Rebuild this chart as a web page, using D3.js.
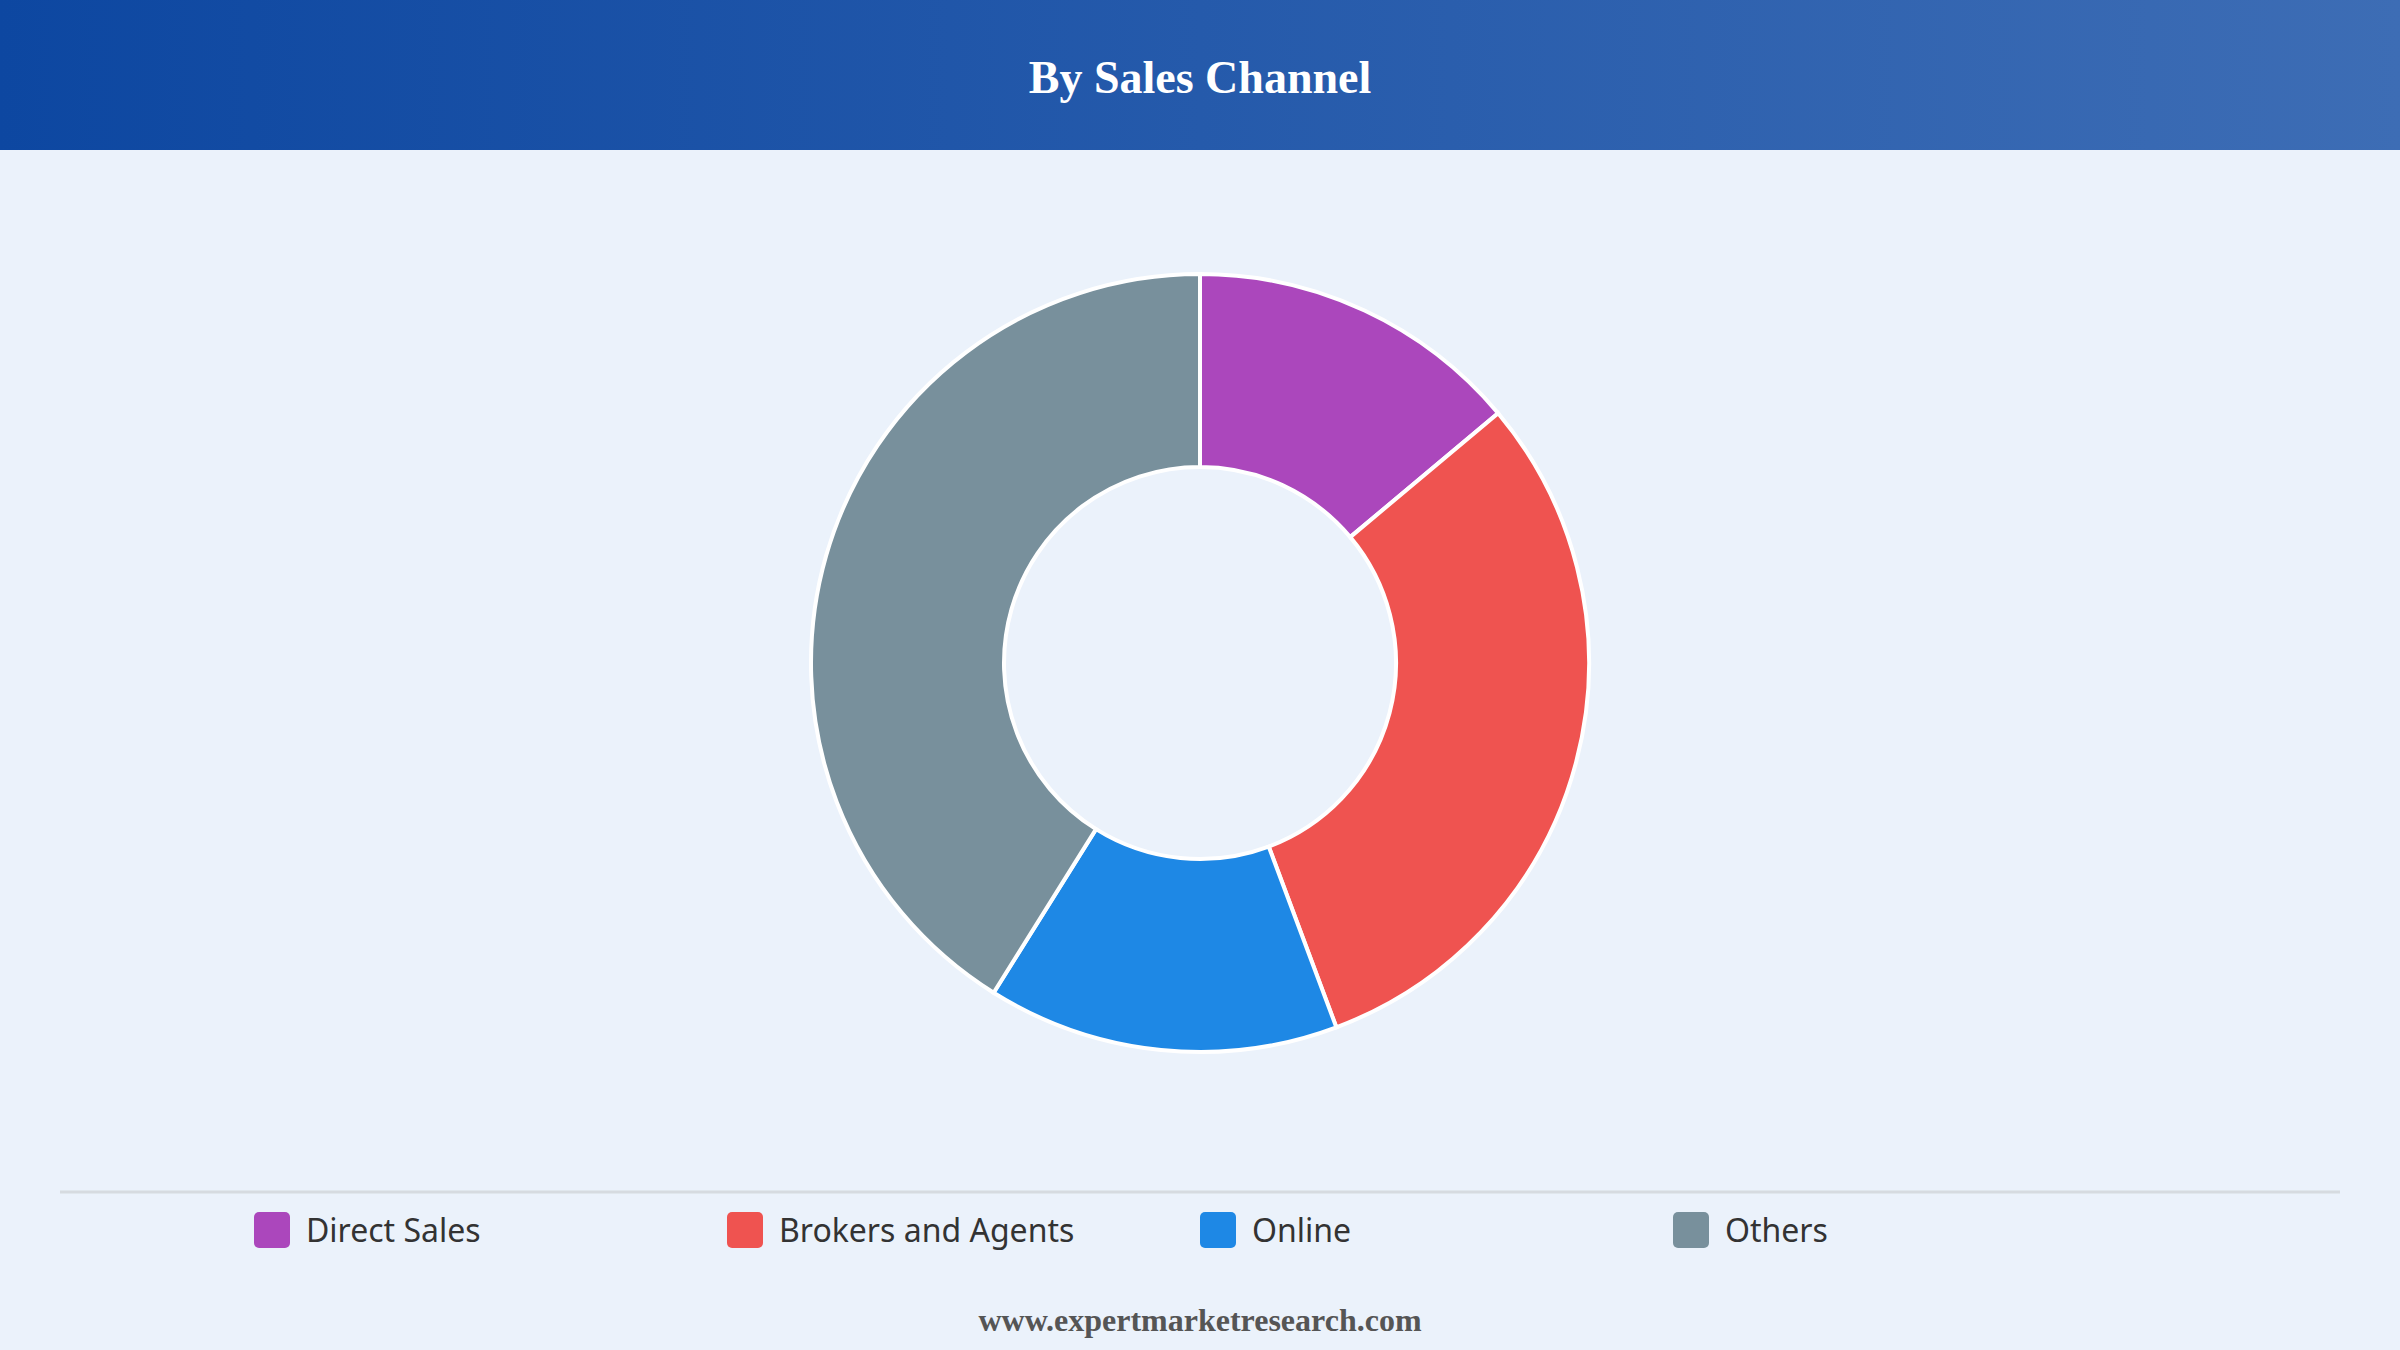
<!DOCTYPE html>
<html><head><meta charset="utf-8">
<script src="https://cdn.jsdelivr.net/npm/d3@7"></script>
<style>body{margin:0;background:#EBF2FB;}</style>
</head><body>
<svg id="c" width="2400" height="1350"></svg>
<script>
const categories = ["Direct Sales", "Brokers and Agents", "Online", "Others"];
const values = [13.9, 30.4, 14.6, 41.1];
const colors = ["#AB47BC", "#EF5350", "#1E88E5", "#78909C"];
const title = "By Sales Channel";
const footer = "www.expertmarketresearch.com";

const svg = d3.select("#c");
const defs = svg.append("defs");
const g = defs.append("linearGradient").attr("id","hg");
g.append("stop").attr("offset","0%").attr("stop-color","#0D47A1");
g.append("stop").attr("offset","100%").attr("stop-color","#3D6DB5");
svg.append("rect").attr("width",2400).attr("height",1350).attr("fill","#EBF2FB");
svg.append("rect").attr("width",2400).attr("height",150).attr("fill","url(#hg)");
svg.append("text").attr("x",1200).attr("y",93).attr("text-anchor","middle")
  .attr("font-family","Liberation Serif, serif").attr("font-weight","bold")
  .attr("font-size",46).attr("fill","#fff").text(title);

const pie = d3.pie().sort(null).value(d=>d);
const arc = d3.arc().innerRadius(196).outerRadius(389);
svg.append("g").attr("transform","translate(1200,663)")
  .selectAll("path").data(pie(values)).join("path")
  .attr("d",arc).attr("fill",(d,i)=>colors[i])
  .attr("stroke","#fff").attr("stroke-width",4);

svg.append("line").attr("x1",60).attr("x2",2340).attr("y1",1192).attr("y2",1192)
  .attr("stroke","#d6dbe0").attr("stroke-width",3);
const x = d3.scalePoint().domain(categories).range([254,1673]);
const lg = svg.append("g").selectAll("g").data(categories).join("g")
  .attr("transform",d=>`translate(${x(d)},1230)`);
lg.append("rect").attr("x",0).attr("y",-18).attr("width",36).attr("height",36).attr("rx",5)
  .attr("fill",(d,i)=>colors[i]);
lg.append("text").attr("x",52).attr("y",12).attr("font-family","Noto Sans, sans-serif")
  .attr("font-size",32).attr("fill","#333").text(d=>d);

svg.append("text").attr("x",1200).attr("y",1331).attr("text-anchor","middle")
  .attr("font-family","Liberation Serif, serif").attr("font-weight","bold")
  .attr("font-size",32).attr("fill","#555").text(footer);
</script>
</body></html>
